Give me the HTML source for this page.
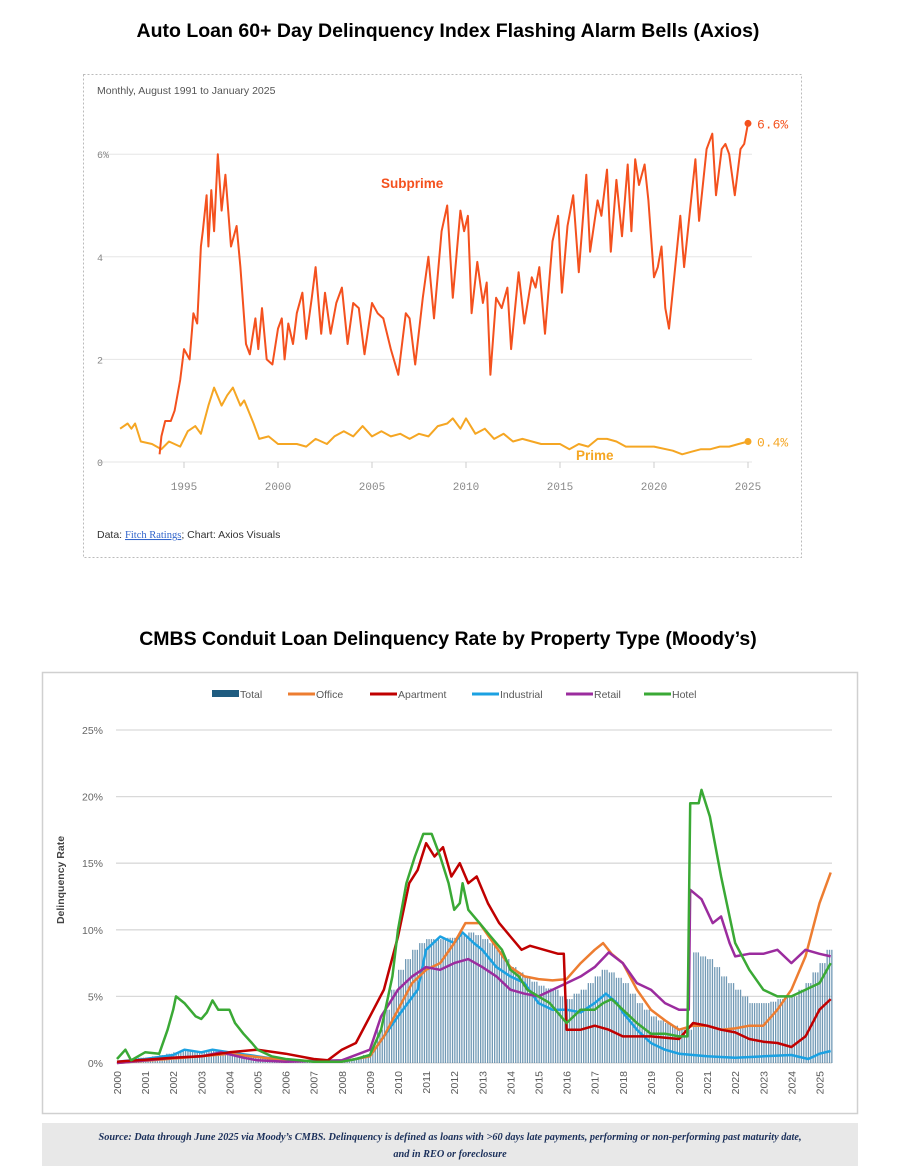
<!DOCTYPE html>
<html><head><meta charset="utf-8"><style>
body{margin:0;background:#fff;width:897px;height:1172px;overflow:hidden}
svg{display:block}
</style></head><body>
<svg id="s" width="897" height="1172" xmlns="http://www.w3.org/2000/svg" font-family="Liberation Sans, sans-serif">
<text x="448" y="37" text-anchor="middle" font-size="19.5" font-weight="bold" fill="#000">Auto Loan 60+ Day Delinquency Index Flashing Alarm Bells (Axios)</text>
<rect x="83.5" y="74.5" width="718" height="483" fill="none" stroke="#bbb" stroke-dasharray="2,2"/>
<text x="97" y="94" font-size="10.5" fill="#555">Monthly, August 1991 to January 2025</text>
<g id="topGrid"></g>
<g id="topLines"></g>
<text x="381" y="188" font-size="13.5" font-weight="bold" fill="#f4511e">Subprime</text>
<text x="576" y="460" font-size="13.5" font-weight="bold" fill="#f5a623">Prime</text>
<text x="97" y="538" font-size="10.5" fill="#333">Data: <tspan fill="#3366cc" text-decoration="underline" font-family="Liberation Serif, serif">Fitch Ratings</tspan>; Chart: Axios Visuals</text>

<text x="448" y="645" text-anchor="middle" font-size="19.5" font-weight="bold" fill="#000">CMBS Conduit Loan Delinquency Rate by Property Type (Moody’s)</text>
<rect x="42.5" y="672.5" width="815" height="441" fill="#fff" stroke="#d0d0d0" stroke-width="1.5"/>
<g id="legend"></g>
<g id="botGrid"></g>
<g id="bars"></g>
<g id="botLines"></g>
<text transform="translate(64,880) rotate(-90)" text-anchor="middle" font-size="10.5" font-weight="bold" fill="#444">Delinquency Rate</text>
<rect x="42" y="1123" width="816" height="43" fill="#e8e8e8"/>
<text x="450" y="1140" text-anchor="middle" font-family="Liberation Serif, serif" font-style="italic" font-weight="bold" font-size="10.3" fill="#1a2f5a">Source: Data through June 2025 via Moody’s CMBS. Delinquency is defined as loans with &gt;60 days late payments, performing or non-performing past maturity date,</text>
<text x="450" y="1157" text-anchor="middle" font-family="Liberation Serif, serif" font-style="italic" font-weight="bold" font-size="10.3" fill="#1a2f5a">and in REO or foreclosure</text>
</svg>
<script>
// ---------- Top chart data ----------
const topYTicks = [0, 2, 4, 6];
const topYTickLabels = ["0", "2", "4", "6%"];
const topXTicks = [1995, 2000, 2005, 2010, 2015, 2020, 2025];
const subprimeSeries = [
 [1993.7,0.15],[1993.8,0.5],[1994,0.8],[1994.3,0.8],[1994.5,1.0],[1994.8,1.6],[1995,2.2],[1995.3,2.0],[1995.5,2.9],[1995.7,2.7],
 [1995.9,4.2],[1996,4.5],[1996.2,5.2],[1996.3,4.2],[1996.45,5.3],[1996.6,4.5],[1996.8,6.0],[1997,4.9],[1997.2,5.6],[1997.5,4.2],
 [1997.8,4.6],[1998,3.8],[1998.3,2.3],[1998.5,2.1],[1998.8,2.8],[1998.95,2.2],[1999.15,3.0],[1999.4,2.0],[1999.7,1.9],[2000,2.6],
 [2000.2,2.8],[2000.35,2.0],[2000.55,2.7],[2000.8,2.3],[2001,2.9],[2001.3,3.3],[2001.5,2.4],[2001.8,3.2],[2002,3.8],[2002.3,2.5],
 [2002.5,3.3],[2002.8,2.5],[2003.1,3.1],[2003.4,3.4],[2003.7,2.3],[2004,3.1],[2004.3,3.0],[2004.6,2.1],[2005,3.1],[2005.3,2.9],
 [2005.6,2.8],[2006,2.2],[2006.4,1.7],[2006.8,2.9],[2007,2.8],[2007.3,1.9],[2007.7,3.2],[2008,4.0],[2008.3,2.8],[2008.7,4.5],
 [2009,5.0],[2009.3,3.2],[2009.7,4.9],[2009.9,4.5],[2010.1,4.8],[2010.3,2.9],[2010.6,3.9],[2010.9,3.1],[2011.1,3.5],[2011.3,1.7],
 [2011.6,3.2],[2011.9,3.0],[2012.2,3.4],[2012.4,2.2],[2012.8,3.7],[2013.1,2.7],[2013.5,3.6],[2013.7,3.4],[2013.9,3.8],[2014.2,2.5],
 [2014.6,4.3],[2014.9,4.8],[2015.1,3.3],[2015.4,4.6],[2015.7,5.2],[2016,3.7],[2016.4,5.6],[2016.6,4.1],[2017,5.1],[2017.2,4.8],
 [2017.5,5.7],[2017.7,4.1],[2018,5.5],[2018.3,4.4],[2018.6,5.8],[2018.8,4.5],[2019,5.9],[2019.2,5.4],[2019.5,5.8],[2019.7,5.1],
 [2020,3.6],[2020.2,3.8],[2020.4,4.2],[2020.6,3.0],[2020.8,2.6],[2021.1,3.7],[2021.4,4.8],[2021.6,3.8],[2022,5.2],[2022.2,5.9],
 [2022.4,4.7],[2022.8,6.1],[2023.1,6.4],[2023.3,5.2],[2023.6,6.1],[2023.8,6.2],[2024.0,6.0],[2024.3,5.2],[2024.6,6.1],[2024.8,6.2],[2025,6.6]];
const primeSeries = [
 [1991.6,0.65],[1992,0.75],[1992.2,0.65],[1992.4,0.75],[1992.7,0.4],[1993.3,0.35],[1993.8,0.25],[1994.2,0.4],[1994.8,0.3],[1995.2,0.6],
 [1995.6,0.7],[1995.9,0.55],[1996.3,1.1],[1996.6,1.45],[1997,1.1],[1997.3,1.3],[1997.6,1.45],[1998,1.1],[1998.2,1.2],[1998.7,0.75],
 [1999,0.45],[1999.5,0.5],[2000,0.35],[2001,0.35],[2001.5,0.3],[2002,0.45],[2002.6,0.35],[2003,0.5],[2003.5,0.6],[2004,0.5],
 [2004.5,0.7],[2005,0.5],[2005.5,0.6],[2006,0.5],[2006.5,0.55],[2007,0.45],[2007.5,0.55],[2008,0.5],[2008.5,0.7],[2009,0.75],
 [2009.3,0.85],[2009.7,0.65],[2010,0.85],[2010.5,0.55],[2011,0.65],[2011.5,0.45],[2012,0.55],[2012.5,0.4],[2013,0.45],[2014,0.35],
 [2015,0.35],[2015.5,0.25],[2016,0.35],[2016.5,0.3],[2017,0.45],[2017.5,0.45],[2018,0.4],[2018.5,0.3],[2019,0.3],[2020,0.3],
 [2021,0.22],[2021.5,0.15],[2022,0.2],[2022.5,0.25],[2023,0.25],[2023.5,0.3],[2024,0.3],[2024.5,0.35],[2025,0.4]];
const subprimeEndLabel = "6.6%";
const primeEndLabel = "0.4%";

// ---------- Bottom chart data ----------
const botYTicks = [0, 5, 10, 15, 20, 25];
const botYTickLabels = ["0%", "5%", "10%", "15%", "20%", "25%"];
const botXTicks = [2000,2001,2002,2003,2004,2005,2006,2007,2008,2009,2010,2011,2012,2013,2014,2015,2016,2017,2018,2019,2020,2021,2022,2023,2024,2025];
const totalStartYear = 2000;
const totalQuarterly = [0.1,0.2,0.3,0.4, 0.4,0.5,0.6,0.7, 0.8,0.9,0.9,0.8, 0.8,0.9,0.9,0.9, 0.8,0.7,0.6,0.5, 0.4,0.4,0.3,0.3, 0.2,0.2,0.2,0.2, 0.2,0.2,0.2,0.2, 0.2,0.3,0.4,0.6, 1.0,2.5,4.0,5.5, 7.0,7.8,8.5,9.0, 9.3,9.3,9.3,9.4, 9.4,9.6,9.8,9.6, 9.3,9.0,8.5,7.8, 7.2,6.8,6.5,6.1, 5.8,5.6,5.5,5.0, 4.8,5.2,5.5,6.0, 6.5,7.0,6.8,6.4, 6.0,5.2,4.5,4.0, 3.5,3.2,3.0,2.8, 2.5,2.5,8.3,8.0, 7.8,7.2,6.5,6.0, 5.5,5.0,4.5,4.5, 4.5,4.6,4.8,4.9, 5.0,5.5,6.0,6.8, 7.5,8.5];
const hotelYears = [2000,2000.3,2000.5,2001,2001.5,2001.8,2002,2002.1,2002.4,2002.8,2003,2003.2,2003.4,2003.6,2004,2004.2,2004.5,2004.8,2005,2005.5,2006,2006.5,2007,2008,2008.5,2009,2009.4,2009.8,2010,2010.3,2010.6,2010.9,2011.2,2011.5,2011.8,2012,2012.2,2012.3,2012.5,2012.9,2013.3,2013.7,2014,2014.3,2014.6,2015,2015.4,2015.8,2016,2016.5,2017,2017.3,2017.6,2018,2018.5,2019,2019.5,2020,2020.3,2020.4,2020.7,2020.8,2021.1,2021.5,2022,2022.5,2023,2023.5,2024,2024.5,2025,2025.4];
const hotelValues = [0.3,1.0,0.2,0.8,0.7,2.5,4.0,5.0,4.5,3.5,3.3,3.8,4.7,4.0,4.0,3.0,2.2,1.5,1.0,0.5,0.3,0.2,0.1,0.1,0.3,0.6,2.5,6.5,10,13.5,15.5,17.2,17.2,15.5,13.5,11.5,12,13.5,11.5,10.5,9.5,8.5,7.0,6.5,5.5,5.0,4.5,3.5,3.0,4.0,4.0,4.5,4.8,4.0,3.0,2.2,2.2,2.0,2.0,19.5,19.5,20.5,18.5,14,9,7,5.5,5.0,5.0,5.5,6,7.5];
const apartmentYears = [2000,2002,2003,2004,2005,2006,2007,2007.5,2008,2008.5,2009,2009.5,2010,2010.4,2010.7,2011,2011.3,2011.6,2011.9,2012.2,2012.5,2012.8,2013.2,2013.6,2014,2014.4,2014.7,2015.2,2015.7,2015.9,2016,2016.5,2017,2017.5,2018,2019,2020,2020.5,2021,2021.5,2022,2022.5,2023,2023.5,2024,2024.5,2025,2025.4];
const apartmentValues = [0.1,0.4,0.5,0.8,1.0,0.7,0.3,0.2,1.0,1.5,3.5,5.5,9.5,13.5,14.5,16.5,15.5,16.2,14,15,13.5,14,12,10.5,9.5,8.5,8.8,8.5,8.2,8.2,2.5,2.5,2.8,2.5,2.0,2.0,1.8,3.0,2.8,2.5,2.3,1.8,1.6,1.5,1.2,2.0,4.0,4.8];
const officeYears = [2000,2003,2004,2006,2008,2009,2009.5,2010,2010.5,2011,2011.5,2012,2012.4,2012.9,2013.4,2014,2014.5,2015,2015.5,2016,2016.5,2017,2017.3,2017.6,2018,2018.5,2019,2019.5,2020,2020.5,2021,2021.5,2022,2022.5,2023,2023.5,2024,2024.5,2025,2025.4];
const officeValues = [0,0.5,0.7,0.2,0.1,0.5,2,4,6,7,7.5,9,10.5,10.5,9,7.2,6.5,6.3,6.2,6.3,7.5,8.5,9.0,8.2,7.5,5.5,4.0,3.2,2.5,2.8,2.8,2.5,2.6,2.8,2.8,4.0,5.5,8.0,12,14.3];
const industrialYears = [2000,2001,2002,2002.4,2003,2003.4,2004,2005,2006,2008,2009,2009.5,2010,2010.7,2011,2011.5,2012,2012.3,2012.7,2013,2013.5,2014,2014.5,2015,2015.5,2016,2016.5,2017,2017.4,2017.8,2018,2018.5,2019,2019.5,2020,2021,2022,2023,2024,2024.6,2025,2025.4];
const industrialValues = [0.1,0.3,0.6,1.0,0.8,1.0,0.8,0.5,0.2,0.1,0.5,2,3.5,5.5,8.5,9.5,9.0,9.8,9.0,8.5,7.2,6.5,6.0,4.5,4.0,4.0,3.8,4.5,5.2,4.5,3.8,2.5,1.5,1.0,0.7,0.5,0.4,0.5,0.6,0.3,0.7,0.9];
const retailYears = [2000,2002,2003,2003.7,2004.5,2005,2006,2008,2009,2009.4,2009.7,2010,2010.5,2011,2011.5,2012,2012.5,2013,2013.5,2014,2014.5,2015,2015.5,2016,2016.5,2017,2017.5,2018,2018.5,2019,2019.5,2020,2020.35,2020.4,2020.8,2021.2,2021.5,2021.8,2022,2022.5,2023,2023.5,2024,2024.5,2025,2025.4];
const retailValues = [0,0.4,0.5,0.8,0.4,0.2,0.1,0.2,1,3.5,4.5,5.5,6.5,7.2,7.0,7.5,7.8,7.2,6.5,5.5,5.2,5.0,5.5,6.0,6.5,7.2,8.3,7.5,6.0,5.5,4.5,4.0,4.0,13,12.3,10.5,11,9,8,8.2,8.2,8.5,7.5,8.5,8.2,8.0];
const legendNames = ["Total","Office","Apartment","Industrial","Retail","Hotel"];

// ---------- helpers ----------
const NS = "http://www.w3.org/2000/svg";
function mk(tag, attrs, parent, txt){ const e=document.createElementNS(NS,tag); for(const k in attrs) e.setAttribute(k,attrs[k]); if(txt!==undefined) e.textContent=txt; parent.appendChild(e); return e; }
const tx = y => 184 + (y-1995)*18.8;
const ty = v => 462 - v*51.3;
const bx = y => 117 + (y-2000)*28.1;
const by = v => 1063 - v*13.32;

// ---------- top chart ----------
const tg = document.getElementById('topGrid');
topYTicks.forEach((t,i)=>{
  const l = mk('line',{x1:100,x2:752,y1:ty(t),y2:ty(t),stroke:'#e6e6e6','stroke-width':1},tg);
  
  
  const lb = mk('text',{x:97,y:ty(t)+4,'font-size':10,fill:'#888','font-family':'Liberation Mono, monospace'},tg,topYTickLabels[i]);
  
  
});
topXTicks.forEach(t=>{
  const l = mk('line',{x1:tx(t),x2:tx(t),y1:462,y2:468,stroke:'#ccc'},tg);
  
  
  const lb = mk('text',{x:tx(t),y:490,'font-size':11,fill:'#888','text-anchor':'middle','font-family':'Liberation Mono, monospace'},tg,String(t));
  
  
});
const tl = document.getElementById('topLines');
function topLine(series, color, name){
  const d = series.map((p,i)=>(i?'L':'M')+tx(p[0]).toFixed(1)+','+ty(p[1]).toFixed(1)).join('');
  const p = mk('path',{d:d,fill:'none',stroke:color,'stroke-width':2,'stroke-linejoin':'round'},tl);
  
  
}
topLine(primeSeries, '#f5a623', 'prime-line');
topLine(subprimeSeries, '#f4511e', 'subprime-line');
const sL = subprimeSeries[subprimeSeries.length-1], pL = primeSeries[primeSeries.length-1];
const d1 = mk('circle',{cx:tx(sL[0]),cy:ty(sL[1]),r:3.5,fill:'#f4511e'},tl);


const e1 = mk('text',{x:tx(sL[0])+9,y:ty(sL[1])+5,'font-size':13,fill:'#f4511e','font-family':'Liberation Mono, monospace'},tl,subprimeEndLabel);


const d2 = mk('circle',{cx:tx(pL[0]),cy:ty(pL[1]),r:3.5,fill:'#f5a623'},tl);


const e2 = mk('text',{x:tx(pL[0])+9,y:ty(pL[1])+5,'font-size':13,fill:'#f5a623','font-family':'Liberation Mono, monospace'},tl,primeEndLabel);



// ---------- bottom chart ----------
const colors = {Total:'#1f5c80',Office:'#ed7d31',Apartment:'#c00000',Industrial:'#1ba1e2',Retail:'#9b2c9e',Hotel:'#3aa935'};
const lg = document.getElementById('legend');
let lx = 212;
const legendWidths = [56,62,82,74,58,52];
legendNames.forEach((n,i)=>{
  const sw = mk('rect',{x:lx,y:n==='Total'?690:692.5,width:27,height:n==='Total'?7:3,fill:colors[n]},lg);
  
  
  const t = mk('text',{x:lx+28,y:698,'font-size':10.5,fill:'#595959'},lg,n);
  
  
  lx += legendWidths[i] + 20;
});
const bg = document.getElementById('botGrid');
botYTicks.forEach((t,i)=>{
  const l = mk('line',{x1:116,x2:832,y1:by(t),y2:by(t),stroke:'#d9d9d9','stroke-width':1.3},bg);
  
  
  const lb = mk('text',{x:103,y:by(t)+4,'font-size':10.5,fill:'#666','text-anchor':'end'},bg,botYTickLabels[i]);
  
  
});
botXTicks.forEach(t=>{
  const lb = mk('text',{transform:'translate('+(bx(t)+4)+',1071) rotate(-90)','font-size':10.5,fill:'#595959','text-anchor':'end'},bg,String(t));
  
  
});
const bars = document.getElementById('bars');
totalQuarterly.forEach((v,i)=>{
  const x = bx(totalStartYear + i*0.25);
  for(let k=0;k<3;k++){
    const r = mk('rect',{x:(x+k*2.34).toFixed(1),y:by(v).toFixed(1),width:1.3,height:(1063-by(v)).toFixed(1),fill:'#4d7fa3','fill-opacity':0.8},bars);
    
    
  }
});
const bl = document.getElementById('botLines');
function botLine(xs, vs, color, name){
  const d = xs.map((x,i)=>(i?'L':'M')+bx(x).toFixed(1)+','+by(vs[i]).toFixed(1)).join('');
  const p = mk('path',{d:d,fill:'none',stroke:color,'stroke-width':2.5,'stroke-linejoin':'round'},bl);
  
  
}
botLine(industrialYears, industrialValues, colors.Industrial, 'industrial-line');
botLine(officeYears, officeValues, colors.Office, 'office-line');
botLine(retailYears, retailValues, colors.Retail, 'retail-line');
botLine(apartmentYears, apartmentValues, colors.Apartment, 'apartment-line');
botLine(hotelYears, hotelValues, colors.Hotel, 'hotel-line');
</script>
</body></html>
